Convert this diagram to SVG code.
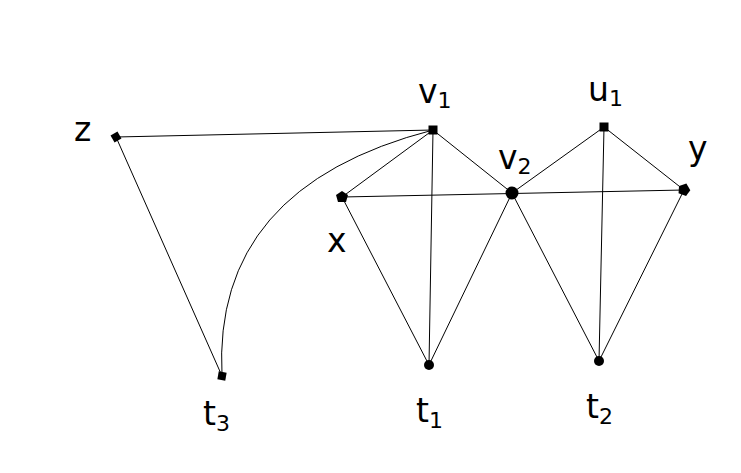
<svg xmlns="http://www.w3.org/2000/svg" width="741" height="473" viewBox="0 0 741 473">
<style>
.e{stroke:#000;stroke-width:1;fill:none}
.n{fill:#000}
.l{font-family:"DejaVu Sans",sans-serif;font-size:33px;fill:#000}
.s{font-size:22px}
</style>
<rect width="741" height="473" fill="#fff"/>
<g id="edges">
<line class="e" x1="116" y1="137" x2="433" y2="130"/>
<line class="e" x1="116" y1="137" x2="222" y2="376"/>
<path class="e" d="M433,130 Q212,187 222,376"/>
<line class="e" x1="433" y1="130" x2="342" y2="197"/>
<line class="e" x1="433" y1="130" x2="429" y2="365"/>
<line class="e" x1="433" y1="130" x2="512" y2="193"/>
<line class="e" x1="342" y1="197" x2="429" y2="365"/>
<line class="e" x1="342" y1="197" x2="684" y2="190"/>
<line class="e" x1="512" y1="193" x2="429" y2="365"/>
<line class="e" x1="512" y1="193" x2="604" y2="127"/>
<line class="e" x1="512" y1="193" x2="599" y2="361"/>
<line class="e" x1="604" y1="127" x2="684" y2="190"/>
<line class="e" x1="604" y1="127" x2="599" y2="361"/>
<line class="e" x1="684" y1="190" x2="599" y2="361"/>
</g>
<g id="z"><rect class="n" x="112" y="133" width="8" height="8" transform="rotate(-30 116 137)"/><text class="l" x="74" y="141">z</text></g>
<g id="v1"><rect class="n" x="428.5" y="125.5" width="9" height="9"/><text class="l" x="418" y="103">v<tspan class="s" dy="5">1</tspan></text></g>
<g id="x"><polygon class="n" points="342,191 348,195 346,202 338,202 336,195"/><text class="l" x="327" y="252">x</text></g>
<g id="v2"><circle class="n" cx="512" cy="193" r="6.5"/><text class="l" x="498" y="169">v<tspan class="s" dy="5">2</tspan></text></g>
<g id="u1"><rect class="n" x="599.5" y="122.5" width="9" height="9"/><text class="l" x="588" y="101">u<tspan class="s" dy="5">1</tspan></text></g>
<g id="y"><polygon class="n" points="684,183 690,188 688,195 680,195 678,188" transform="rotate(20 684 190)"/><text class="l" x="688" y="160">y</text></g>
<g id="t3"><rect class="n" x="218" y="372" width="8" height="8" transform="rotate(10 222 376)"/><text class="l" x="203" y="425">t<tspan class="s" dy="6">3</tspan></text></g>
<g id="t1"><circle class="n" cx="429" cy="365" r="5"/><text class="l" x="416" y="422">t<tspan class="s" dy="6">1</tspan></text></g>
<g id="t2"><circle class="n" cx="599" cy="361" r="5"/><text class="l" x="586" y="418">t<tspan class="s" dy="6">2</tspan></text></g>
</svg>
